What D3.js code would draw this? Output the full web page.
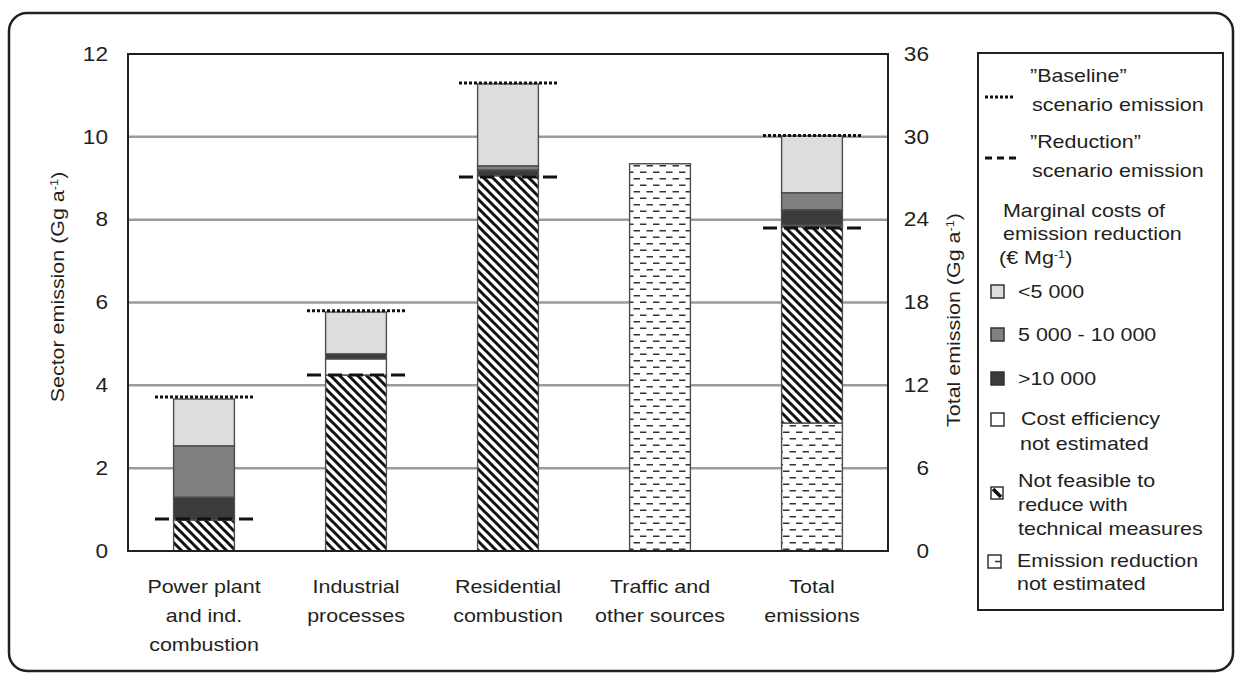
<!DOCTYPE html>
<html>
<head>
  <meta charset="utf-8">
  <title>Sector emissions</title>
  <style>
    body { margin: 0; background: #fff; }
    svg { display: block; }
    text { font-family: "Liberation Sans", Arial, sans-serif; fill: #231f20; }
  </style>
</head>
<body>
  <svg id="chart" width="1242" height="680"></svg>

  <script src="https://d3js.org/d3.v7.min.js"></script>
  <script>
    // Data (sector bars in Gg/a, total bar in right axis units)
    const categories = ["Power plant and ind. combustion", "Industrial processes", "Residential combustion", "Traffic and other sources", "Total emissions"];
    const categoryLines = [["Power plant", "and ind.", "combustion"], ["Industrial", "processes"], ["Residential", "combustion"], ["Traffic and", "other sources"], ["Total", "emissions"]];
    const axisOf = ["sector", "sector", "sector", "sector", "total"];

    const reductionNotEstimated = [0, 0, 0, 9.35, 9.27];
    const notFeasible = [0.75, 4.25, 9.06, 0, 14.22];
    const costNotEstimated = [0, 0.39, 0, 0, 0.12];
    const above10000 = [0.55, 0.12, 0.14, 0, 1.11];
    const from5000to10000 = [1.24, 0, 0.10, 0, 1.23];
    const below5000 = [1.13, 1.01, 1.98, 0, 4.11];

    const baseline = [3.72, 5.8, 11.3, null, 30.1];
    const reduction = [0.77, 4.25, 9.03, null, 23.4];

    const sectorTicks = [0, 2, 4, 6, 8, 10, 12];
    const totalTicks = [0, 6, 12, 18, 24, 30, 36];

    const SX = 1.16; // the figure's lettering is wider than Arial
    const svg = d3.select("#chart");

    function addText(parent, x, y, str, anchor) {
      return parent.append("text")
        .attr("transform", `translate(${x},${y}) scale(${SX},1)`)
        .attr("text-anchor", anchor || "start")
        .style("font-size", "18.5px")
        .text(str);
    }

    // Patterns
    const defs = svg.append("defs");
    const hatch = defs.append("pattern").attr("id", "hatch")
      .attr("patternUnits", "userSpaceOnUse").attr("width", 9).attr("height", 9);
    hatch.append("rect").attr("width", 9).attr("height", 9).attr("fill", "#fff");
    hatch.append("path").attr("d", "M0,0L9,9M-4.5,4.5L4.5,13.5M4.5,-4.5L13.5,4.5")
      .attr("stroke", "#111").attr("stroke-width", 3);

    const dashes = defs.append("pattern").attr("id", "dashes")
      .attr("patternUnits", "userSpaceOnUse").attr("width", 13).attr("height", 13);
    dashes.append("rect").attr("width", 13).attr("height", 13).attr("fill", "#fff");
    dashes.append("path").attr("d", "M3,3.2h6.5M9.5,9.7h6.5M-3.5,9.7h6.5")
      .attr("stroke", "#333").attr("stroke-width", 1.5);

    // Outer rounded frame
    svg.append("rect")
      .attr("x", 9).attr("y", 13).attr("width", 1224).attr("height", 658).attr("rx", 18)
      .attr("fill", "none").attr("stroke", "#231f20").attr("stroke-width", 2.5);

    // Scales
    const x = d3.scaleBand().domain(categories).range([128, 888]).paddingInner(0.6).paddingOuter(0.3);
    const ySector = d3.scaleLinear().domain([0, 12]).range([551, 54]);
    const yTotal = d3.scaleLinear().domain([0, 36]).range([551, 54]);
    const yFor = i => axisOf[i] === "total" ? yTotal : ySector;

    // Gridlines
    svg.append("g").selectAll("line")
      .data(sectorTicks.filter(t => t > 0 && t < 12))
      .join("line")
      .attr("x1", 128).attr("x2", 888)
      .attr("y1", d => ySector(d)).attr("y2", d => ySector(d))
      .attr("stroke", "#9b9b9b").attr("stroke-width", 2.5);

    // Stacked bars
    const keys = ["reductionNotEstimated", "notFeasible", "costNotEstimated", "above10000", "from5000to10000", "below5000"];
    const fills = {
      reductionNotEstimated: "url(#dashes)",
      notFeasible: "url(#hatch)",
      costNotEstimated: "#fff",
      above10000: "#3b3b3b",
      from5000to10000: "#7f8082",
      below5000: "#dcdddf"
    };
    const rows = categories.map((c, i) => ({
      category: c,
      index: i,
      reductionNotEstimated: reductionNotEstimated[i],
      notFeasible: notFeasible[i],
      costNotEstimated: costNotEstimated[i],
      above10000: above10000[i],
      from5000to10000: from5000to10000[i],
      below5000: below5000[i]
    }));
    const series = d3.stack().keys(keys)(rows);

    svg.append("g").selectAll("g")
      .data(series)
      .join("g")
      .attr("fill", d => fills[d.key])
      .selectAll("rect")
      .data(d => d.filter(s => s[1] - s[0] > 0))
      .join("rect")
      .attr("x", d => x(d.data.category))
      .attr("width", x.bandwidth())
      .attr("y", d => yFor(d.data.index)(d[1]))
      .attr("height", d => yFor(d.data.index)(d[0]) - yFor(d.data.index)(d[1]))
      .attr("stroke", "#4d4d4d").attr("stroke-width", 1.4);

    // Scenario lines
    const half = 49;
    function scenario(values, dash) {
      svg.append("g").selectAll("line")
        .data(values.map((v, i) => ({ v, i })).filter(d => d.v !== null))
        .join("line")
        .attr("x1", d => x(categories[d.i]) + x.bandwidth() / 2 - half)
        .attr("x2", d => x(categories[d.i]) + x.bandwidth() / 2 + half)
        .attr("y1", d => yFor(d.i)(d.v)).attr("y2", d => yFor(d.i)(d.v))
        .attr("stroke", "#111").attr("stroke-width", 3)
        .attr("stroke-dasharray", dash);
    }
    scenario(baseline, "3,2");
    scenario(reduction, "14,7");

    // Plot frame
    svg.append("rect")
      .attr("x", 128).attr("y", 54).attr("width", 760).attr("height", 497)
      .attr("fill", "none").attr("stroke", "#231f20").attr("stroke-width", 2);

    // Axes
    const leftAxis = svg.append("g").attr("transform", "translate(128,0)")
      .call(d3.axisLeft(ySector).tickValues(sectorTicks).tickSize(0).tickPadding(20));
    const rightAxis = svg.append("g").attr("transform", "translate(888,0)")
      .call(d3.axisRight(yTotal).tickValues(totalTicks).tickSize(0));
    [leftAxis, rightAxis].forEach(a => {
      a.select(".domain").remove();
      a.selectAll("text").style("font-size", "19.5px").attr("fill", "#231f20")
        .attr("font-family", null);
    });
    leftAxis.selectAll("text").attr("x", -20 / SX).attr("transform", `scale(${SX},1)`);
    rightAxis.selectAll("text").attr("text-anchor", "end").attr("x", 41 / SX).attr("transform", `scale(${SX},1)`);

    // Axis titles
    function axisTitle(cx, cy, main) {
      const t = svg.append("text")
        .attr("transform", `translate(${cx},${cy}) rotate(-90) scale(${SX},1)`)
        .attr("text-anchor", "middle")
        .style("font-size", "18.5px");
      t.append("tspan").text(main + " (Gg a");
      t.append("tspan").attr("baseline-shift", "super").style("font-size", "11px").text("-1");
      t.append("tspan").text(")");
    }
    axisTitle(64, 287, "Sector emission");
    axisTitle(960, 320, "Total emission");

    // Category labels
    categoryLines.forEach((lines, i) => {
      const cx = x(categories[i]) + x.bandwidth() / 2;
      lines.forEach((l, k) => addText(svg, cx, 593 + k * 29, l, "middle"));
    });

    // Legend
    const lg = svg.append("g");
    lg.append("rect").attr("x", 978).attr("y", 53).attr("width", 245).attr("height", 557)
      .attr("fill", "#fff").attr("stroke", "#231f20").attr("stroke-width", 2);

    lg.append("line").attr("x1", 985).attr("x2", 1015).attr("y1", 97).attr("y2", 97)
      .attr("stroke", "#111").attr("stroke-width", 3).attr("stroke-dasharray", "3,2");
    addText(lg, 1030, 82, "”Baseline”");
    addText(lg, 1032, 111, "scenario emission");

    lg.append("line").attr("x1", 985).attr("x2", 1020).attr("y1", 158).attr("y2", 158)
      .attr("stroke", "#111").attr("stroke-width", 3).attr("stroke-dasharray", "7,5");
    addText(lg, 1030, 148, "”Reduction”");
    addText(lg, 1032, 177, "scenario emission");

    addText(lg, 1003, 217, "Marginal costs of");
    addText(lg, 1003, 240, "emission reduction");
    const unit = addText(lg, 999, 264, "(€ Mg");
    unit.append("tspan").attr("baseline-shift", "super").style("font-size", "11px").text("-1");
    unit.append("tspan").text(")");

    const squares = [
      { y: 285, fill: fills.below5000, label: ["<5 000"], tx: 1018, ty: 298 },
      { y: 328, fill: fills.from5000to10000, label: ["5 000 - 10 000"], tx: 1018, ty: 341 },
      { y: 372, fill: fills.above10000, label: [">10 000"], tx: 1018, ty: 385 },
      { y: 413, fill: "#fff", label: ["Cost efficiency", "not estimated"], tx: 1021, ty: 425 }
    ];
    squares.forEach(s => {
      lg.append("rect").attr("x", 991).attr("y", s.y).attr("width", 13).attr("height", 13)
        .attr("fill", s.fill).attr("stroke", "#333").attr("stroke-width", 1.5);
      s.label.forEach((l, k) => addText(lg, s.tx - k, s.ty + k * 25, l));
    });

    // Not feasible sample
    lg.append("rect").attr("x", 991).attr("y", 487).attr("width", 12).attr("height", 12)
      .attr("fill", "#fff").attr("stroke", "#333").attr("stroke-width", 1.5);
    lg.append("line").attr("x1", 993).attr("y1", 489).attr("x2", 1001).attr("y2", 497)
      .attr("stroke", "#111").attr("stroke-width", 3.5);
    addText(lg, 1018, 487, "Not feasible to");
    addText(lg, 1018, 511, "reduce with");
    addText(lg, 1018, 535, "technical measures");

    // Emission reduction not estimated sample
    lg.append("rect").attr("x", 988).attr("y", 555).attr("width", 13).attr("height", 13)
      .attr("fill", "#fff").attr("stroke", "#333").attr("stroke-width", 1.5);
    lg.append("line").attr("x1", 995).attr("x2", 1001).attr("y1", 561.5).attr("y2", 561.5)
      .attr("stroke", "#333").attr("stroke-width", 1.5);
    addText(lg, 1017, 567, "Emission reduction");
    addText(lg, 1017, 590, "not estimated");
  </script>
</body>
</html>
